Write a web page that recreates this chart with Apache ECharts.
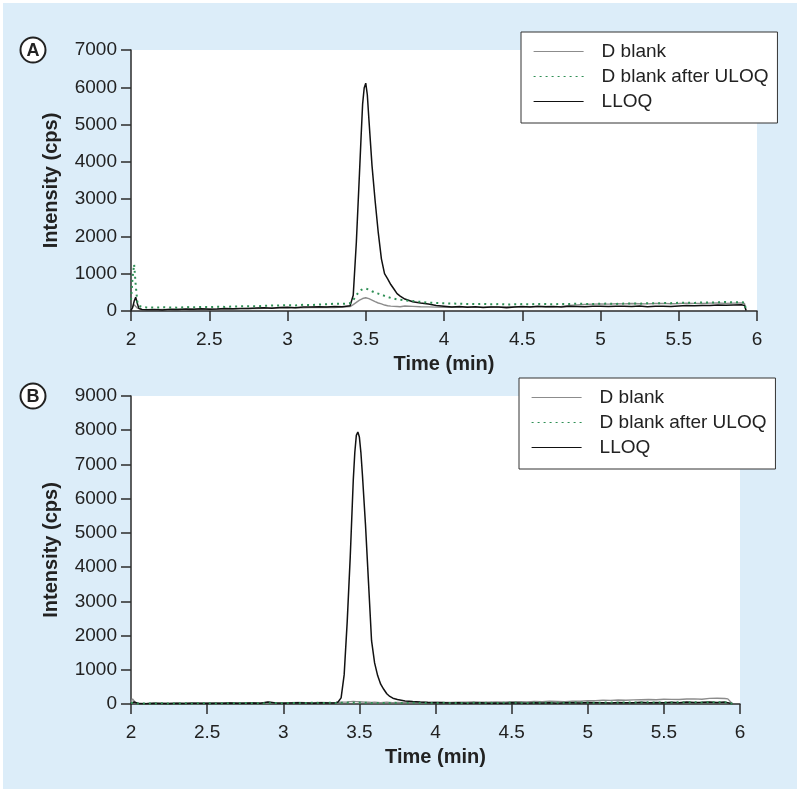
<!DOCTYPE html>
<html>
<head>
<meta charset="utf-8">
<script src="https://cdn.jsdelivr.net/npm/echarts@6/dist/echarts.min.js"></script>
<style>
  html, body { margin: 0; padding: 0; background: #fff; }
  #chart { width: 800px; height: 792px; }
</style>
</head>
<body>
<div id="chart"></div>
<script>
// ---- panel A (time axis, min) ----
const timeA = [
  2.00, 2.01, 2.02, 2.03, 2.04, 2.05, 2.07, 2.10,
  2.15, 2.20, 2.25, 2.30, 2.35, 2.40, 2.45, 2.50, 2.55, 2.60, 2.65, 2.70, 2.75,
  2.80, 2.85, 2.90, 2.95, 3.00, 3.05, 3.10, 3.15, 3.20, 3.25, 3.30, 3.35, 3.40,
  3.42, 3.44, 3.46, 3.47, 3.48, 3.49, 3.50, 3.51, 3.52, 3.54, 3.56, 3.58, 3.60, 3.62, 3.64, 3.66, 3.68, 3.70, 3.72,
  3.75,
  3.80, 3.85, 3.90, 3.95, 4.00, 4.05, 4.10, 4.15, 4.20, 4.25, 4.30, 4.35, 4.40, 4.45, 4.50,
  4.55, 4.60, 4.65, 4.70, 4.75, 4.80, 4.85, 4.90, 4.95, 5.00, 5.05, 5.10, 5.15, 5.20, 5.25,
  5.30, 5.35, 5.40, 5.45, 5.50, 5.55, 5.60, 5.65, 5.70, 5.75, 5.80, 5.85, 5.90,
  5.92, 5.93
];
const blankA = [
  40, 110, 170, 140, 80, 50, 40, 35,
  35, 40, 35, 45, 40, 50, 45, 55, 50, 60, 55, 65, 70, 65, 75, 80, 85, 80, 90, 85, 95, 90, 100, 95, 105, 120,
  170, 230, 290, 315, 335, 350, 355, 345, 330, 290, 250, 215, 190, 160, 140, 130, 125, 120, 115,
  135,
  125, 115, 110, 105, 100, 105, 100, 110, 105, 100, 110, 105, 115, 110, 105, 115, 110, 120, 115, 125,
  150, 165, 175, 185, 190, 185, 195, 190, 200, 195, 190, 200, 205, 195, 200, 210, 205, 200, 210, 215,
  205, 210, 215,
  205, 15
];
const afterUloqA = [
  300, 900, 1250, 700, 260, 140, 105, 95,
  90, 100, 95, 90, 105, 100, 110, 105, 115, 110, 120, 125, 130, 125, 140, 145, 150, 155, 150, 165, 160, 175, 180, 195, 190, 210,
  290, 420, 540, 565, 585, 595, 600, 590, 575, 530, 490, 465, 440, 405, 375, 350, 330, 310, 300,
  285,
  265, 245, 225, 215, 205, 200, 195, 190, 185, 190, 180, 185, 175, 180, 185, 180, 190, 185, 180, 190,
  185, 195, 190, 185, 195, 200, 190, 200, 205, 195, 210, 205, 215, 210, 220, 225, 215, 230, 225, 235,
  240, 230, 235,
  230, 20
];
const lloqA = [
  20, 90, 260, 370, 210, 70, 40, 35,
  40, 30, 45, 40, 55, 45, 60, 50, 55, 65, 60, 70, 65, 80, 85, 75, 95, 100, 90, 110, 105, 115, 110, 120, 115, 140,
  420, 1850, 3700, 4650, 5550, 5980, 6110, 5800, 5150, 3900, 2950, 2100, 1400, 1000, 860, 710, 590, 465, 400,
  320,
  250, 215, 185, 150, 130, 110, 120, 100, 115, 95, 110, 105, 90, 110, 120, 105, 125, 115, 120, 110,
  125, 120, 115, 130, 125, 120, 130, 125, 120, 135, 115, 125, 130, 120, 135, 145, 140, 150, 145, 160,
  155, 160, 165,
  150, 10
];

// ---- panel B ----
const timeB = [
  2.00, 2.01, 2.02, 2.03, 2.05,
  2.10, 2.15, 2.20, 2.25, 2.30, 2.35, 2.40, 2.45, 2.50, 2.55, 2.60, 2.65, 2.70, 2.75,
  2.80, 2.85, 2.90, 2.95, 3.00, 3.05, 3.10, 3.15, 3.20, 3.25, 3.30,
  3.34, 3.36, 3.38, 3.40, 3.42, 3.44, 3.46, 3.47, 3.48, 3.49, 3.50, 3.51, 3.52, 3.54, 3.56, 3.58, 3.60,
  3.62, 3.64, 3.66, 3.68, 3.70, 3.72,
  3.75,
  3.80, 3.85, 3.90, 3.95, 4.00, 4.05, 4.10, 4.15, 4.20, 4.25, 4.30, 4.35, 4.40, 4.45, 4.50,
  4.55, 4.60, 4.65, 4.70, 4.75, 4.80, 4.85, 4.90, 4.95, 5.00, 5.05, 5.10, 5.15, 5.20, 5.25,
  5.30, 5.35, 5.40, 5.45, 5.50, 5.55, 5.60, 5.65, 5.70, 5.75, 5.80, 5.85, 5.90,
  5.92, 5.95
];
const blankB = [
  60, 150, 110, 40, 20, 15, 25, 20, 30, 25, 20, 30, 25, 35, 30, 25, 35, 30, 40, 35,
  30, 45, 35, 40, 35, 45, 40, 35, 45, 40,
  40, 45, 50, 55, 60, 70, 75, 72, 70, 72, 65, 62, 60, 55, 50, 45, 50, 45, 40, 45, 50, 45, 40,
  45,
  40, 50, 45, 55, 60, 50, 45, 55, 50, 60, 55, 50, 60, 55, 70, 65, 60, 75, 70, 80,
  75, 70, 85, 80, 100, 95, 110, 105, 115, 110, 120, 125, 130, 125, 140, 135, 130, 145, 150, 140,
  165, 170, 160,
  150, 10
];
const afterUloqB = [
  30, 60, 40, 20, 10, 15, 10, 20, 15, 10, 20, 15, 25, 20, 15, 20, 25, 20, 30, 25,
  20, 25, 30, 25, 30, 25, 30, 35, 30, 35,
  30, 35, 40, 35, 40, 45, 40, 42, 45, 42, 40, 38, 35, 40, 35, 30, 35, 30, 35, 30, 35, 30, 35,
  30,
  30, 35, 30, 25, 30, 35, 30, 25, 30, 35, 30, 35, 30, 35, 40, 35, 30, 35, 40, 35,
  40, 35, 40, 45, 40, 35, 40, 45, 40, 45, 40, 45, 50, 45, 40, 45, 50, 45, 50, 45,
  50, 55, 50,
  45, 5
];
const lloqB = [
  20, 40, 60, 30, 15, 10, 20, 15, 10, 20, 15, 25, 20, 15, 25, 20, 30, 25, 20, 30,
  25, 60, 30, 25, 30, 35, 30, 25, 35, 30,
  30, 60, 180, 850, 2400, 4300, 6550, 7350, 7850, 7950, 7800, 7350, 6700, 5250, 3550, 1850, 1200,
  830, 580, 430, 300, 220, 170,
  130,
  90, 70, 55, 45, 40, 35, 30, 40, 25, 30, 35, 20, 30, 25, 35, 30, 25, 40, 30, 35,
  25, 40, 35, 30, 45, 35, 40, 30, 45, 40, 35, 50, 40, 45, 35, 50, 40, 55, 45, 50,
  60, 45, 55,
  40, 5
];

const xTicks = [2, 2.5, 3, 3.5, 4, 4.5, 5, 5.5, 6];
const seriesNames = ['D blank', 'D blank after ULOQ', 'LLOQ'];

const pairs = (xs, ys) => xs.map((x, i) => [x, ys[i]]);

const FONT = "'Liberation Sans', Arial, sans-serif";
const FONT_BOLD = "'Liberation Sans Narrow', 'Liberation Sans', Arial, sans-serif";
const AXIS_COLOR = '#2b2b2b';

const chart = echarts.init(document.getElementById('chart'), null, { renderer: 'canvas' });

const makeX = (gridIndex) => ({
  type: 'value', gridIndex, min: 2, max: 6, interval: 0.5,
  name: 'Time (min)', nameLocation: 'middle', nameGap: 43,
  nameTextStyle: { fontFamily: FONT_BOLD, fontWeight: 'bold', fontSize: 20, color: '#222' },
  axisLine: { show: true, onZero: false, lineStyle: { color: AXIS_COLOR, width: 1.5 } },
  axisTick: { show: true, length: 10, lineStyle: { color: AXIS_COLOR, width: 1.5 } },
  axisLabel: { fontFamily: FONT, fontSize: 19, color: '#222', margin: 19,
    formatter: v => (xTicks.includes(v) ? String(v) : '') },
  splitLine: { show: false }
});
const makeY = (gridIndex, max) => ({
  type: 'value', gridIndex, min: 0, max, interval: 1000,
  name: 'Intensity (cps)', nameLocation: 'middle', nameGap: 70,
  nameTextStyle: { fontFamily: FONT_BOLD, fontWeight: 'bold', fontSize: 20, color: '#222' },
  axisLine: { show: true, lineStyle: { color: AXIS_COLOR, width: 1.5 } },
  axisTick: { show: true, length: 10, lineStyle: { color: AXIS_COLOR, width: 1.5 } },
  axisLabel: { fontFamily: FONT, fontSize: 19, color: '#222', margin: 14, formatter: v => String(v) },
  splitLine: { show: false }
});

const makeSeries = (idx, time, grey, green, black) => [
  { name: seriesNames[0], type: 'line', xAxisIndex: idx, yAxisIndex: idx, data: pairs(time, grey),
    symbol: 'none', lineStyle: { color: '#8c8c8c', width: 1.4 }, itemStyle: { color: '#8c8c8c' }, z: 2 },
  { name: seriesNames[2], type: 'line', xAxisIndex: idx, yAxisIndex: idx, data: pairs(time, black),
    symbol: 'none', lineStyle: { color: '#111', width: 1.5 }, itemStyle: { color: '#111' }, z: 3 },
  { name: seriesNames[1], type: 'line', xAxisIndex: idx, yAxisIndex: idx, data: pairs(time, green),
    symbol: 'none', lineStyle: { color: '#2f8f55', width: 2, type: [2, 4] }, itemStyle: { color: '#2f8f55' }, z: 4 }
];

const makeLegend = (left, top) => ({
  left, top, orient: 'vertical', data: seriesNames,
  backgroundColor: '#fff', borderColor: '#333', borderWidth: 1, borderRadius: 0,
  padding: [10, 9, 12, 12], itemWidth: 50, itemHeight: 14, itemGap: 6,
  selectedMode: false,
  itemStyle: { opacity: 0 },
  lineStyle: { width: 1.2 },
  textStyle: { fontFamily: FONT, fontSize: 19, color: '#222', padding: [0, 0, 0, 13] }
});

const badge = (cx, cy, letter) => ({
  type: 'group', children: [
    { type: 'circle', shape: { cx, cy, r: 12.5 }, style: { fill: '#fff', stroke: '#222', lineWidth: 2 } },
    { type: 'text', x: cx, y: cy + 1, style: { text: letter, fill: '#222', font: 'bold 18px ' + FONT, align: 'center', verticalAlign: 'middle' } }
  ]
});

const option = {
  backgroundColor: '#fff',
  animation: false,
  graphic: [
    { type: 'rect', z: -10, shape: { x: 3, y: 3, width: 794, height: 786 }, style: { fill: '#dcedf9' } },
    badge(33, 50, 'A'),
    badge(33, 396, 'B')
  ],
  grid: [
    { left: 131, top: 50, width: 626, height: 261, show: true, backgroundColor: '#fff', borderWidth: 0 },
    { left: 131, top: 396, width: 609, height: 308, show: true, backgroundColor: '#fff', borderWidth: 0 }
  ],
  xAxis: [makeX(0), makeX(1)],
  yAxis: [makeY(0, 7000), makeY(1, 9000)],
  legend: [makeLegend(521, 32), makeLegend(519, 378)],
  series: [
    ...makeSeries(0, timeA, blankA, afterUloqA, lloqA),
    ...makeSeries(1, timeB, blankB, afterUloqB, lloqB)
  ]
};

chart.setOption(option);
</script>
</body>
</html>
